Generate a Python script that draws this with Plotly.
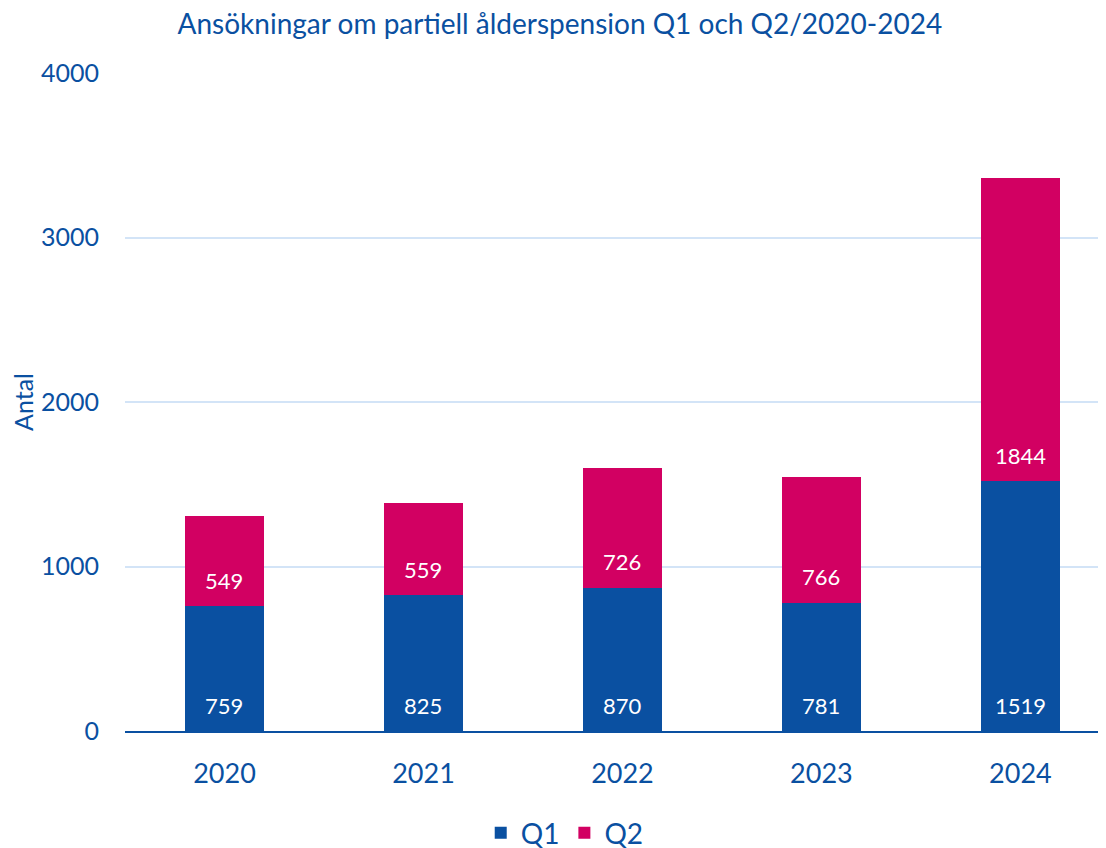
import plotly.graph_objects as go

years = ["2020", "2021", "2022", "2023", "2024"]
q1 = [759, 825, 870, 781, 1519]
q2 = [549, 559, 726, 766, 1844]

blue = "#0A50A1"
pink = "#D20062"
font = "Lato, Open Sans, sans-serif"

fig = go.Figure()
fig.add_trace(go.Bar(x=years, y=q1, name="Q1", marker=dict(color=blue, line=dict(width=0))))
fig.add_trace(go.Bar(x=years, y=q2, name="Q2", marker=dict(color=pink, line=dict(width=0))))

# value labels sit a little above the base of each segment (Excel "inside base")
for i in range(len(years)):
    for base, val in ((0, q1[i]), (q1[i], q2[i])):
        fig.add_annotation(x=i, y=base, xref="x", yref="y", text=str(val), showarrow=False,
                           yanchor="middle", yshift=26,
                           font=dict(color="white", size=22, family=font))

fig.update_layout(
    barmode="stack",
    bargap=0.6,
    width=1106, height=848,
    margin=dict(l=117, r=14, t=65, b=125, autoexpand=False),
    paper_bgcolor="white", plot_bgcolor="white",
    font=dict(family=font, color=blue),
    title=dict(text="Ansökningar om partiell ålderspension Q1 och Q2/2020-2024",
               x=0.499, xanchor="center", y=1, yanchor="top", pad=dict(t=6),
               font=dict(size=28, color=blue, family=font)),
    legend=dict(orientation="h", x=0.451, xanchor="center", y=-0.155, yanchor="middle",
                font=dict(size=28, color=blue), traceorder="normal"),
)
fig.update_xaxes(
    type="category", range=[-0.5, 4.4],
    showline=True, linecolor=blue, linewidth=2,
    ticks="", tickfont=dict(size=27, color=blue),
    ticklabelstandoff=18,
)
fig.update_yaxes(
    range=[0, 4000], dtick=1000,
    showgrid=True, gridcolor="#D3E4F7", gridwidth=2,
    zeroline=False, ticks="", tickfont=dict(size=25, color=blue),
    ticklabelstandoff=25,
    title=dict(text="Antal", font=dict(size=25, color=blue), standoff=12),
)

fig.write_html("out.html")
